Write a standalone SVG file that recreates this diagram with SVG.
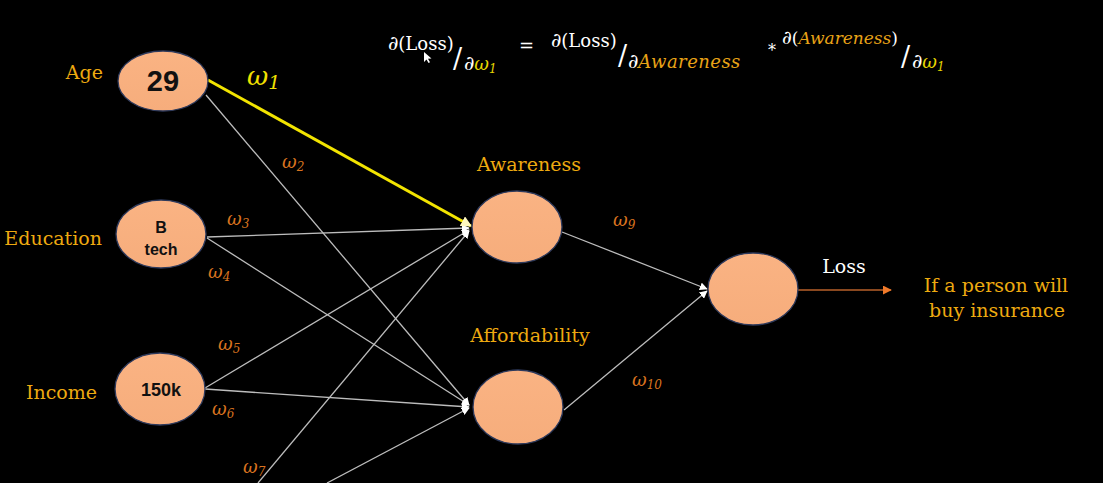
<svg xmlns="http://www.w3.org/2000/svg" width="1103" height="483" viewBox="0 0 1103 483">
<style>
.lbl{font-family:"DejaVu Serif","Liberation Serif",serif;font-size:19px;fill:#EEAA10}
.w{font-family:"DejaVu Serif","Liberation Serif",serif;font-style:italic;font-size:18px;fill:#D8731F}
.sub{font-size:12px}
.node{fill:url(#peach);stroke:#2E3A5C;stroke-width:1.3}
.ntxt{font-family:"Liberation Sans",Arial,sans-serif;font-weight:bold;fill:#111;text-anchor:middle}
.edge{stroke:#BDBDBD;stroke-width:1.3;fill:none}
.f{font-family:"DejaVu Serif","Liberation Serif",serif;font-size:18px;fill:#FFFFFF}
.sl{font-family:"DejaVu Serif","Liberation Serif",serif;font-size:27px;fill:#FFFFFF}
.fa{font-style:italic;fill:#E8A317}
.fw{font-style:italic;fill:#E6D400}
.d{font-size:20px}
</style>
<defs>
<linearGradient id="peach" x1="0" y1="0" x2="0" y2="1">
<stop offset="0" stop-color="#FAB383"/>
<stop offset="1" stop-color="#F6AD7C"/>
</linearGradient>
<marker id="wa" viewBox="0 0 10 10" refX="9" refY="5" markerWidth="8" markerHeight="8" markerUnits="userSpaceOnUse" orient="auto">
<path d="M0,0 L10,5 L0,10 z" fill="#FFFFFF"/>
</marker>
<marker id="ya" viewBox="0 0 10 10" refX="9" refY="5" markerWidth="11" markerHeight="11" markerUnits="userSpaceOnUse" orient="auto">
<path d="M0,0 L10,5 L0,10 z" fill="#FFF8C0"/>
</marker>
<marker id="oa" viewBox="0 0 10 10" refX="9" refY="5" markerWidth="9" markerHeight="9" markerUnits="userSpaceOnUse" orient="auto">
<path d="M0,0 L10,5 L0,10 z" fill="#F07A2A"/>
</marker>
</defs>
<rect x="0" y="0" width="1103" height="483" fill="#000000"/>

<g id="connectors">
<line class="edge" x1="206" y1="95" x2="469" y2="405" marker-end="url(#wa)"/>
<line class="edge" x1="207" y1="237" x2="469" y2="228" marker-end="url(#wa)"/>
<line class="edge" x1="207" y1="238" x2="469" y2="405" marker-end="url(#wa)"/>
<line class="edge" x1="205" y1="388" x2="469" y2="230" marker-end="url(#wa)"/>
<line class="edge" x1="205" y1="389" x2="469" y2="407" marker-end="url(#wa)"/>
<line class="edge" x1="258" y1="483" x2="469" y2="231" marker-end="url(#wa)"/>
<line class="edge" x1="327" y1="483" x2="469" y2="408" marker-end="url(#wa)"/>
<line class="edge" x1="562" y1="232" x2="707" y2="289" marker-end="url(#wa)"/>
<line class="edge" x1="564" y1="410" x2="707" y2="291" marker-end="url(#wa)"/>
<line x1="208" y1="80" x2="471" y2="226" stroke="#F2E400" stroke-width="3" marker-end="url(#ya)"/>
<line x1="798" y1="290" x2="891" y2="290" stroke="#B8602A" stroke-width="1.5" marker-end="url(#oa)"/>
</g>

<g id="weights">
<text x="247" y="85" style="font-family:'DejaVu Serif','Liberation Serif',serif;font-style:italic;font-size:26px;fill:#F0E000">ω<tspan style="font-size:19px" dy="4">1</tspan></text>
<text class="w" x="282" y="168">ω<tspan class="sub" dy="3">2</tspan></text>
<text class="w" x="227" y="225">ω<tspan class="sub" dy="3">3</tspan></text>
<text class="w" x="208" y="278">ω<tspan class="sub" dy="3">4</tspan></text>
<text class="w" x="218" y="350">ω<tspan class="sub" dy="3">5</tspan></text>
<text class="w" x="212" y="415">ω<tspan class="sub" dy="3">6</tspan></text>
<text class="w" x="243" y="473">ω<tspan class="sub" dy="3">7</tspan></text>
<text class="w" x="613" y="226">ω<tspan class="sub" dy="3">9</tspan></text>
<text class="w" x="632" y="386">ω<tspan class="sub" dy="3">10</tspan></text>
</g>

<g id="age">
<text class="lbl" x="103" y="79" text-anchor="end">Age</text>
<ellipse class="node" cx="163" cy="81" rx="45" ry="30"/>
<text class="ntxt" x="163" y="91" font-size="29">29</text>
</g>
<g id="education">
<text class="lbl" x="102" y="245" text-anchor="end">Education</text>
<ellipse class="node" cx="161" cy="234" rx="45" ry="34"/>
<text class="ntxt" x="161" y="233" font-size="16">B</text>
<text class="ntxt" x="161" y="255" font-size="16">tech</text>
</g>
<g id="income">
<text class="lbl" x="97" y="399" text-anchor="end">Income</text>
<ellipse class="node" cx="160" cy="389" rx="45" ry="36"/>
<text class="ntxt" x="161" y="396" font-size="18">150k</text>
</g>
<g id="awareness">
<text class="lbl" x="529" y="171" text-anchor="middle">Awareness</text>
<ellipse class="node" cx="517" cy="227" rx="45" ry="36"/>
</g>
<g id="affordability">
<text class="lbl" x="530" y="342" text-anchor="middle">Affordability</text>
<ellipse class="node" cx="518" cy="407" rx="45" ry="37"/>
</g>
<g id="output">
<ellipse class="node" cx="753" cy="289" rx="45" ry="36"/>
<text x="844" y="273" text-anchor="middle" style="font-family:'DejaVu Serif','Liberation Serif',serif;font-size:19px;fill:#FFFFFF">Loss</text>
</g>
<g id="result">
<text class="lbl" x="996" y="292" text-anchor="middle">If a person will</text>
<text class="lbl" x="997" y="317" text-anchor="middle">buy insurance</text>
</g>

<g id="formula">
<text class="f" x="388" y="50"><tspan class="d">∂</tspan>(Loss)</text>
<text class="sl" x="453" y="68">/</text>
<text class="f" x="464" y="70"><tspan class="d">∂</tspan><tspan class="fw">ω</tspan><tspan class="fw" style="font-size:12px" dy="3">1</tspan></text>
<text class="f" x="519" y="52">=</text>
<text class="f" x="551" y="47"><tspan class="d">∂</tspan>(Loss)</text>
<text class="sl" x="618" y="65">/</text>
<text class="f" x="628" y="68"><tspan class="d">∂</tspan><tspan class="fa" textLength="102">Awareness</tspan></text>
<text class="f" x="768" y="56" style="font-size:16px">*</text>
<text class="f" x="782" y="44" style="font-size:17px"><tspan style="font-size:19px">∂</tspan>(<tspan class="fa">Awareness</tspan>)</text>
<text class="sl" x="901" y="66">/</text>
<text class="f" x="912" y="68"><tspan class="d">∂</tspan><tspan class="fw">ω</tspan><tspan class="fw" style="font-size:12px" dy="3">1</tspan></text>
<path d="M424,52 L424,62 L426.5,59.5 L428.5,63 L430,62.3 L428,58.8 L431.5,58.5 z" fill="#FFFFFF"/>
</g>
</svg>
